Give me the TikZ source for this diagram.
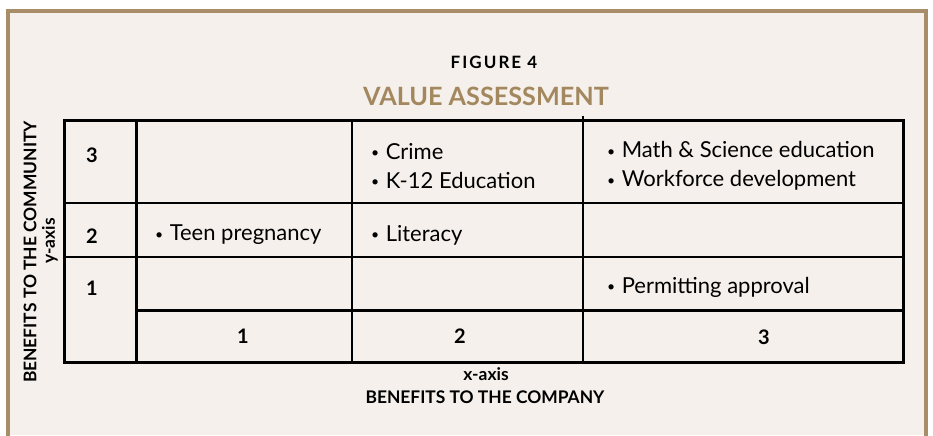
\documentclass[tikz,border=0pt]{standalone}
\usepackage{fontspec}
\setmainfont{Lato}
\definecolor{frame}{HTML}{A88D69}
\definecolor{paper}{HTML}{F5F0EB}
\definecolor{heading}{HTML}{A3885F}
% small bullet in front of each entry
\newcommand\entry{\raisebox{0.15ex}{\fontsize{7}{7}\selectfont•}\hspace{0.3em}}

\begin{document}
\begin{tikzpicture}[x=0.5pt,y=-0.5pt,
    cell/.style={anchor=west,align=left,font=\fontsize{11}{14.5}\selectfont},
    num/.style={font=\fontsize{10}{12}\selectfont\bfseries},
    axis/.style={font=\fontsize{8.7}{10}\selectfont\bfseries},
    heavy/.style={line width=1.5pt},
    light/.style={line width=0.75pt}]
  \useasboundingbox (0,0) rectangle (933,435);
  % panel and its brown frame
  \fill[paper] (8,11) rectangle (926,435);
  \draw[frame,line width=1.6pt] (8,440) -- (8,11) -- (926,11) -- (926,440);
  % headings
  \node[font=\fontsize{8.5}{10}\selectfont\bfseries\addfontfeature{LetterSpace=12}] (fig) at (494,62) {FIGURE 4};
  \node[heading,font=\fontsize{12.6}{15}\selectfont\bfseries] (title) at (486,96) {VALUE ASSESSMENT};
  % grid
  \def\xa{64} \def\xb{136} \def\xc{352} \def\xd{583} \def\xe{903}
  \def\ya{120} \def\yb{203} \def\yc{257} \def\yd{310} \def\ye{362}
  \draw[light] (\xa,\yb) -- (\xe,\yb);
  \draw[light] (\xa,\yc) -- (\xe,\yc);
  \draw[light] (\xc,\ya) -- (\xc,\ye);
  \draw[light] (\xd,116) -- (\xd,\ye);
  \draw[heavy] (\xb,\yd) -- (\xe,\yd);
  \draw[heavy] (\xb,\ya) -- (\xb,\ye);
  \draw[heavy] (\xa,\ya) rectangle (\xe,\ye);
  % y values
  \node[num] (y3) at (92,155) {3};
  \node[num] (y2) at (92,236) {2};
  \node[num] (y1) at (92,288) {1};
  % x values
  \node[num] (x1) at (243,336) {1};
  \node[num] (x2) at (460,336) {2};
  \node[num] (x3) at (764,337) {3};
  % cell entries
  \node[cell] (c32) at (364,166) {\entry Crime\\\entry K-12 Education};
  \node[cell] (c33) at (600,166) {\entry Math \& Science education\\\entry Workforce development};
  \node[cell] (c21) at (148,235) {\entry Teen pregnancy};
  \node[cell] (c22) at (364,235) {\entry Literacy};
  \node[cell] (c13) at (600,287) {\entry Permitting approval};
  % axis captions
  \node[axis] (xlab) at (486,374) {x-axis};
  \node[axis] (xname) at (485,397) {BENEFITS TO THE COMPANY};
  \node[axis,rotate=90] (ylab) at (50,241) {y-axis};
  \node[axis,rotate=90] (yname) at (30,252) {BENEFITS TO THE COMMUNITY};
\end{tikzpicture}
\end{document}
